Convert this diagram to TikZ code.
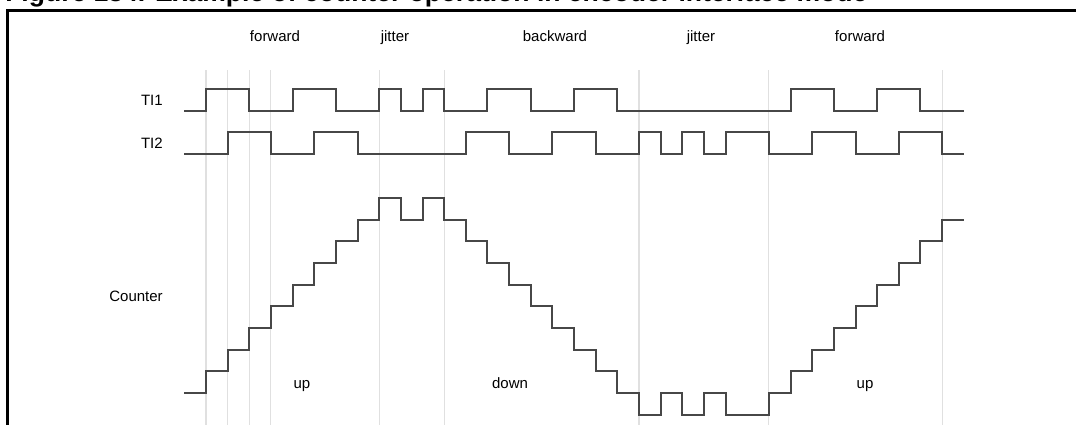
\documentclass[tikz,border=0pt]{standalone}
\usepackage{fontspec}
\setmainfont{Liberation Sans}

\begin{document}
\begin{tikzpicture}[x=0.75pt,y=-0.75pt,line join=miter,
  sig/.style={black!72,line width=1.5pt},
  tick/.style={black!12,line width=0.8pt},
  lbl/.style={font=\fontsize{11.25}{13}\selectfont,inner sep=0pt}]
\useasboundingbox (0,0) rectangle (1076,425);
\fill[white] (0,0) rectangle (1076,425);
\begin{scope}
\clip (0,0) rectangle (1076,425);
\node[font=\bfseries\fontsize{19.9}{24}\selectfont,anchor=base west,inner sep=0pt] (title) at (5,1) {Figure 134. Example of counter operation in encoder interface mode};
\end{scope}
\draw[line width=2pt] (7.5,425) -- (7.5,10.5) -- (1076,10.5);

\begin{scope}[shift={(206,0)},x=16.2375pt]
\foreach \k in {0,1,2,3,8,11,20,26,34} \draw[tick] (\k,70) -- (\k,425);
\draw[sig] (-1,111) -| (0,89) -| (2,111) -| (4,89) -| (6,111) -| (8,89) -| (9,111) -| (10,89) -| (11,111) -| (13,89) -| (15,111) -| (17,89) -| (19,111) -| (27,89) -| (29,111) -| (31,89) -| (33,111) -- (35,111);
\draw[sig] (-1,154) -| (1,132) -| (3,154) -| (5,132) -| (7,154) -| (12,132) -| (14,154) -| (16,132) -| (18,154) -| (20,132) -| (21,154) -| (22,132) -| (23,154) -| (24,132) -| (26,154) -| (28,132) -| (30,154) -| (32,132) -| (34,154) -- (35,154);
\end{scope}

\begin{scope}[shift={(206,393)},x=16.2375pt,y=16.2375pt]
\draw[sig] (-1,0) -| (0,1) -| (1,2) -| (2,3) -| (3,4) -| (4,5) -| (5,6) -| (6,7) -| (7,8) -| (8,9) -| (9,8) -| (10,9) -| (11,8) -| (12,7) -| (13,6) -| (14,5) -| (15,4) -| (16,3) -| (17,2) -| (18,1) -| (19,0) -| (20,-1) -| (21,0) -| (22,-1) -| (23,0) -| (24,-1) -| (26,0) -| (27,1) -| (28,2) -| (29,3) -| (30,4) -| (31,5) -| (32,6) -| (33,7) -| (34,8) -- (35,8);
\end{scope}

\node[lbl,anchor=east] (ti1) at (163,100) {TI1};
\node[lbl,anchor=east] (ti2) at (163,143) {TI2};
\node[lbl,anchor=east] (cnt) at (163,296) {Counter};
\node[lbl,anchor=base] (fwd1) at (275,41) {forward};
\node[lbl,anchor=base] (jit1) at (395,41) {jitter};
\node[lbl,anchor=base] (bwd) at (555,41) {backward};
\node[lbl,anchor=base] (jit2) at (701,41) {jitter};
\node[lbl,anchor=base] (fwd2) at (860,41) {forward};
\node[lbl,anchor=base] (up1) at (302,388) {up};
\node[lbl,anchor=base] (down) at (510,388) {down};
\node[lbl,anchor=base] (up2) at (865,388) {up};
\end{tikzpicture}
\end{document}
